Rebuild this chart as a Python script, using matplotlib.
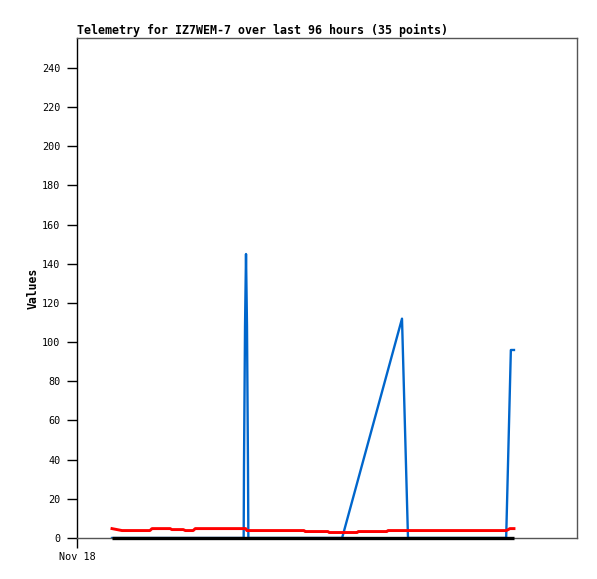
import matplotlib
matplotlib.use("Agg")
import matplotlib.pyplot as plt

# hours since Nov 18 00:00
black_t = [6.72, 83.9]
black_v = [0, 0]

red_t = [6.72, 7.68, 8.64, 14.0, 14.4, 17.9, 18.2, 20.4, 20.8, 22.3, 22.7, 32.4, 32.6,
         43.6, 43.8, 48.2, 48.4, 53.8, 54.0, 59.5, 59.7, 82.4, 82.8, 83.1, 83.9]
red_v = [4.8, 4.3, 3.8, 3.8, 4.8, 4.8, 4.3, 4.3, 3.8, 3.8, 4.8, 4.8, 3.8,
         3.8, 3.3, 3.3, 2.8, 2.8, 3.3, 3.3, 3.8, 3.8, 4.3, 4.8, 4.8]

blue_t = [6.72, 32.0, 32.06, 32.26, 32.45, 32.64, 32.83, 32.9, 50.9, 62.4, 63.55, 82.4, 83.3, 83.9]
blue_v = [0, 0, 36, 108, 145, 108, 36, 0, 0, 112, 0, 0, 96, 96]

yticks = [0, 20, 40, 60, 80, 100, 120, 140, 160, 180, 200, 220, 240]
xticks = [0]
xticklabels = ["Nov 18"]

mono = ["DejaVu Sans Mono"]

fig = plt.figure(figsize=(5.97, 5.79), dpi=100)
ax = fig.add_axes([77/597, 41/579, 500/597, 500/579])

ax.plot(blue_t, blue_v, color="#0066CC", lw=1.7, zorder=2)
ax.plot(red_t, red_v, color="#FF0000", lw=2.1, zorder=3)
ax.plot(black_t, black_v, color="#000000", lw=2.4, zorder=4, solid_capstyle="butt", clip_on=False)

ax.set_xlim(0, 96)
ax.set_ylim(0, 255.3)
ax.set_yticks(yticks)
ax.set_yticklabels([str(v) for v in yticks], family=mono, fontsize=7.3)
ax.set_xticks(xticks)
ax.set_xticklabels(xticklabels, family=mono, fontsize=7.3)
ax.tick_params(axis="both", direction="out", length=7, width=1, color="black", pad=5)
ax.tick_params(axis="x", pad=3)

for s in ["top", "right", "bottom"]:
    ax.spines[s].set_color("#555555")
    ax.spines[s].set_linewidth(1)
ax.spines["left"].set_color("black")
ax.spines["left"].set_linewidth(1)

ax.set_ylabel("Values", family=mono, fontsize=8.3, fontweight="bold", labelpad=2)
ax.set_title("Telemetry for IZ7WEM-7 over last 96 hours (35 points)", family=mono,
             fontsize=8.35, fontweight="bold", loc="left", pad=3)

fig.savefig("out.png", dpi=100)
